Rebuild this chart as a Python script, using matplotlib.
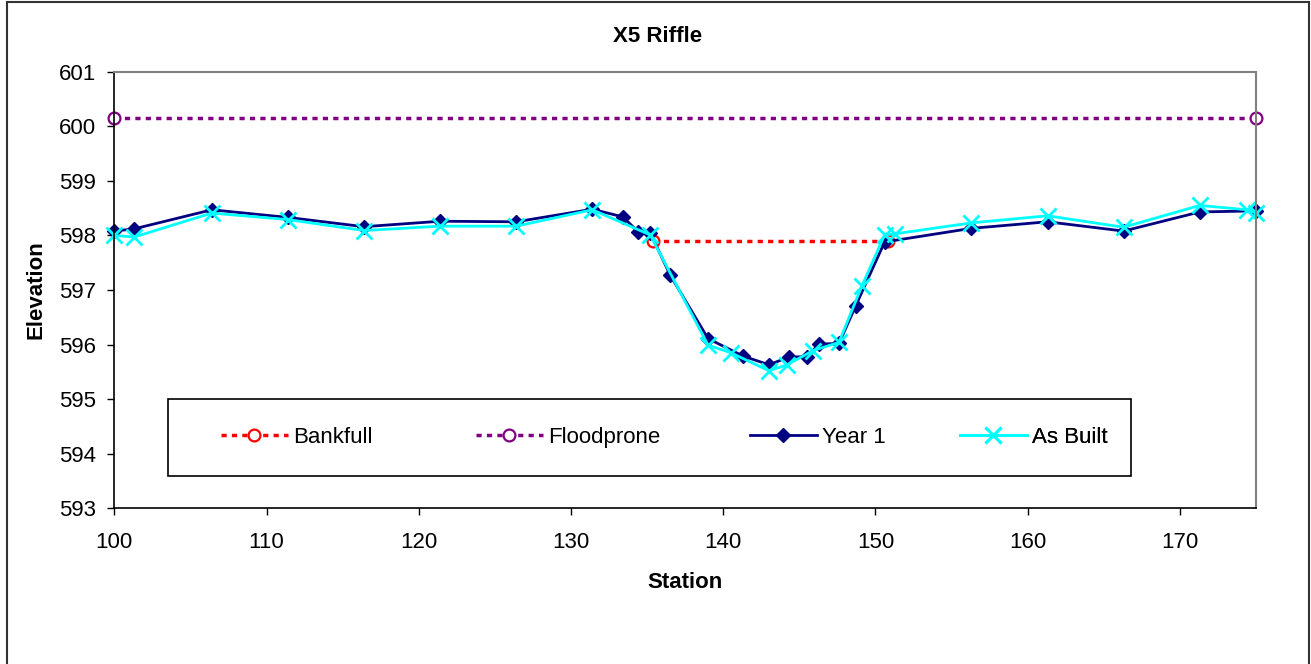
import matplotlib.pyplot as plt
from matplotlib.patches import Rectangle

plt.rcParams['font.family'] = ['Liberation Sans', 'DejaVu Sans']

# cross-section survey, X5 riffle
bankfull_x = [135.4, 150.8]
bankfull_y = [597.89, 597.89]

floodprone_x = [100.0, 175.0]
floodprone_y = [600.15, 600.15]

year1_x = [100.0, 101.3, 106.4, 111.4, 116.4, 121.4, 126.4, 131.4, 133.4, 134.4,
           135.2, 136.5, 139.0, 141.3, 143.0, 144.3, 145.5, 146.3, 147.6, 148.7,
           150.6, 156.3, 161.3, 166.3, 171.3, 175.0]
year1_y = [598.08, 598.12, 598.47, 598.33, 598.16, 598.26, 598.25, 598.48, 598.34, 598.07,
           598.05, 597.28, 596.11, 595.79, 595.63, 595.77, 595.78, 596.01, 596.02, 596.71,
           597.88, 598.13, 598.25, 598.08, 598.43, 598.45]

asbuilt_x = [100.0, 101.3, 106.4, 111.4, 116.4, 121.4, 126.4, 131.4, 135.2, 139.0,
             140.5, 143.0, 144.2, 145.9, 147.6, 149.1, 150.6, 151.3, 156.3, 161.3,
             166.3, 171.3, 174.4, 175.0]
asbuilt_y = [598.00, 597.97, 598.41, 598.29, 598.09, 598.17, 598.17, 598.47, 598.01, 595.99,
             595.85, 595.52, 595.63, 595.89, 596.04, 597.07, 598.01, 598.03, 598.23, 598.36,
             598.15, 598.55, 598.47, 598.41]

FS = 16

fig = plt.figure(figsize=(13.11, 6.64), dpi=100)
ax = fig.add_axes([0.0872, 0.2345, 0.8709, 0.6575])

l_bank, = ax.plot(bankfull_x, bankfull_y, color='red', lw=2.5, ls=(0, (1.5, 1.5)),
                  marker='o', ms=8.5, mfc='white', mec='red', mew=1.6, label='Bankfull')
l_flood, = ax.plot(floodprone_x, floodprone_y, color='purple', lw=2.5, ls=(0, (1.5, 1.5)),
                   marker='o', ms=8.5, mfc='white', mec='purple', mew=1.6,
                   label='Floodprone', clip_on=False)
l_year1, = ax.plot(year1_x, year1_y, color='navy', lw=2, marker='D', ms=7,
                   mfc='navy', mec='navy', label='Year 1', clip_on=False)
l_built, = ax.plot(asbuilt_x, asbuilt_y, color='cyan', lw=2, marker='x', ms=11,
                   mew=2, label='As Built', clip_on=False)

ax.set_xlim(100, 175)
ax.set_ylim(593, 601)
ax.set_xticks(range(100, 171, 10))
ax.set_yticks(range(593, 602))

ax.tick_params(direction='out', length=5, width=1, labelsize=FS, color='black')
ax.tick_params(axis='y', pad=8)
ax.tick_params(axis='x', pad=12)

for side in ['left', 'bottom']:
    ax.spines[side].set_color('black')
    ax.spines[side].set_linewidth(1.2)
for side in ['top', 'right']:
    ax.spines[side].set_color('#808080')
    ax.spines[side].set_linewidth(1.5)

ax.set_xlabel('Station', fontsize=FS, fontweight='bold', labelpad=14)
ax.set_ylabel('Elevation', fontsize=FS, fontweight='bold', labelpad=9)

fig.text(658 / 1311, 1 - 36 / 664, 'X5 Riffle', fontsize=FS, fontweight='bold',
         ha='center', va='center')

# legend box inside the plot area, one entry per series at its own offset
box = Rectangle((0.047, 0.074), 0.8435, 0.176, transform=ax.transAxes,
                facecolor='white', edgecolor='black', lw=1.2, zorder=5)
ax.add_patch(box)
entry_x = [0.0935, 0.3167, 0.5567, 0.7406]
for line, x0 in zip([l_bank, l_flood, l_year1, l_built], entry_x):
    leg = ax.legend(handles=[line], loc='center left', bbox_to_anchor=(x0, 0.162),
                    frameon=False, fontsize=FS, handlelength=3.0, handletextpad=0.23,
                    borderpad=0, borderaxespad=0)
    leg.set_zorder(6)
    ax.add_artist(leg)

# chart border
fig.patches.append(Rectangle((7 / 1311, -0.01), 1302 / 1311, 1 - 2 / 664 + 0.01,
                             transform=fig.transFigure, fill=False,
                             edgecolor='#333333', lw=1.5))

fig.savefig('out.png', dpi=100)
